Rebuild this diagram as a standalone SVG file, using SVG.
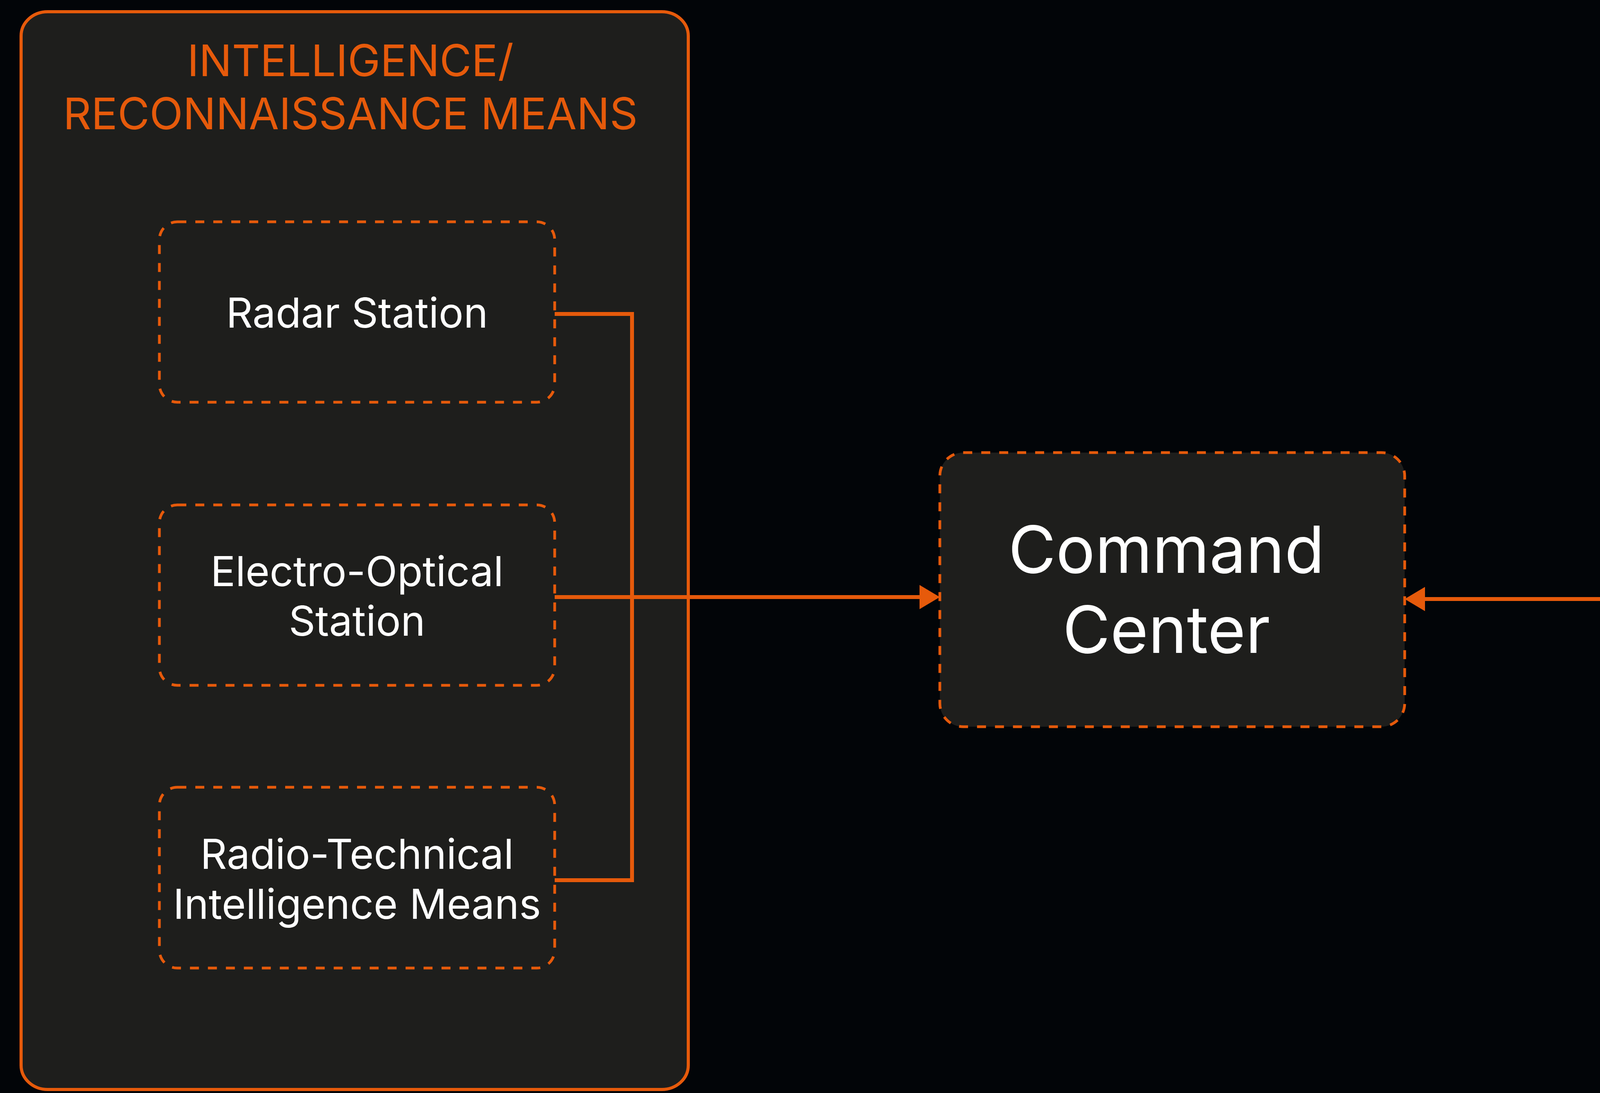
<svg xmlns="http://www.w3.org/2000/svg" width="7664" height="2799" viewBox="0 0 7664 2799">
<style>
.bg{fill:#020508}
.container{fill:#1E1E1C;stroke:#E65A0B;stroke-width:8}
.box{fill:#1E1E1C;stroke:#E65A0B;stroke-width:7;stroke-dasharray:23 23}
.title{font-family:Inter,"Noto Sans","Liberation Sans",sans-serif;fill:#E65A0B;text-anchor:middle}
.lbl{font-family:Inter,"Noto Sans","Liberation Sans",sans-serif;fill:#FFFFFF;text-anchor:middle}
.conn{fill:none;stroke:#E65A0B;stroke-width:10}
</style>
<defs>
<marker id="ah" viewBox="0 0 52 62" refX="0" refY="31" markerWidth="52" markerHeight="62" markerUnits="userSpaceOnUse" orient="auto-start-reverse">
<path d="M0,0 L52,31 L0,62 Z" fill="#E65A0B"/>
</marker>
</defs>
<rect class="bg" x="0" y="0" width="7664" height="2799"/>

<g id="intel-group">
<rect class="container" x="54" y="30" width="1708" height="2760" rx="68" ry="62"/>
<text class="title" font-size="112" x="897" y="195">INTELLIGENCE/</text>
<text class="title" font-size="112" x="897" y="331">RECONNAISSANCE MEANS</text>
</g>

<g id="radar-station">
<rect class="box" x="408" y="568" width="1012" height="462" rx="46" ry="46"/>
<text class="lbl" font-size="106" x="914" y="839">Radar Station</text>
</g>

<g id="electro-optical-station">
<rect class="box" x="408" y="1293" width="1012" height="462" rx="46" ry="46"/>
<text class="lbl" font-size="106" x="914" y="1501">Electro-Optical</text>
<text class="lbl" font-size="106" x="914" y="1628">Station</text>
</g>

<g id="radio-technical">
<rect class="box" x="408" y="2016" width="1012" height="463" rx="46" ry="46"/>
<text class="lbl" font-size="106" x="914" y="2225">Radio-Technical</text>
<text class="lbl" font-size="106" x="914" y="2353">Intelligence Means</text>
</g>

<g id="command-center">
<rect class="box" x="2406" y="1159" width="1190" height="702" rx="60" ry="60"/>
<text class="lbl" font-size="167" x="2986" y="1467">Command</text>
<text class="lbl" font-size="167" x="2986" y="1672">Center</text>
</g>

<g id="interceptor-assets">
<rect class="container" x="4339" y="673" width="3336" height="1496" rx="124" ry="32"/>
<text class="title" font-size="158" x="6007" y="944">INTERCEPTOR ASSETS</text>
</g>

<g id="interception-group">
<rect class="box" x="4490" y="1170" width="1268" height="702" rx="66" ry="66"/>
<text class="lbl" font-size="167" x="5124" y="1479">Interception</text>
<text class="lbl" font-size="167" x="5124" y="1684">Group</text>
</g>

<g id="interceptor-drone">
<rect class="box" x="6257" y="1160" width="1270" height="702" rx="66" ry="66"/>
<text class="lbl" font-size="167" x="6892" y="1467">Interceptor</text>
<text class="lbl" font-size="167" x="6892" y="1671">Drone</text>
</g>

<g id="connectors">
<path class="conn" d="M1420,804 H1618 V2254 H1420"/>
<path class="conn" d="M1420,1529 H2354" marker-end="url(#ah)"/>
<path class="conn" d="M4339,1534 H3648" marker-end="url(#ah)"/>
<path class="conn" d="M5812,1534 H6205" marker-start="url(#ah)" marker-end="url(#ah)"/>
</g>
</svg>
